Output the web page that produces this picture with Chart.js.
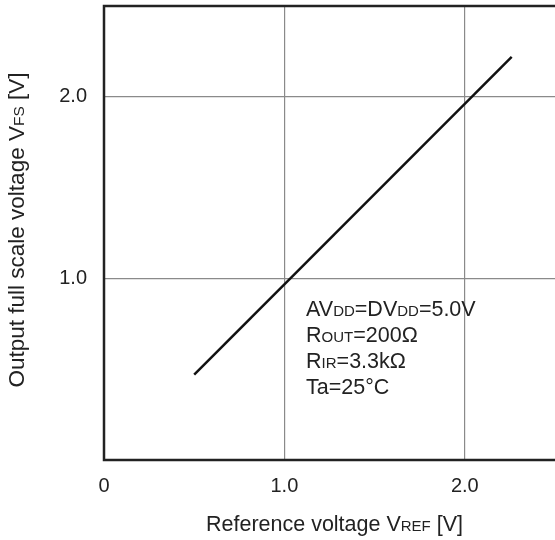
<!DOCTYPE html>
<html>
<head>
<meta charset="utf-8">
<script src="https://cdn.jsdelivr.net/npm/chart.js@4"></script>
<style>
  html, body { margin: 0; padding: 0; background: #fff; }
  #wrap { width: 555px; height: 540px; position: relative; }
</style>
</head>
<body>
<div id="wrap"><canvas id="vfsChart"></canvas></div>
<script>
// values
const refVoltage = [0.5, 2.26];          // VREF [V]
const fullScaleVoltage = [0.47, 2.22];   // VFS [V]
const xTickValues = [0, 1, 2];
const yTickValues = [0, 1, 2];
const xTickLabels = ['0', '1.0', '2.0'];
const yTickLabels = ['', '1.0', '2.0'];

// text pieces: [text, isSmallCaps]
const xTitle = [['Reference voltage V', false], ['REF', true], [' [V]', false]];
const yTitle = [['Output full scale voltage V', false], ['FS', true], [' [V]', false]];
const conditions = [
    [['AV', false], ['DD', true], ['=DV', false], ['DD', true], ['=5.0V', false]],
    [['R', false], ['OUT', true], ['=200\u03A9', false]],
    [['R', false], ['IR', true], ['=3.3k\u03A9', false]],
    [['Ta=25\u00B0C', false]]
];

const FONT = "'Liberation Sans', Arial, Helvetica, sans-serif";
const INK = '#222222';

function drawRich(ctx, parts, x, y, align, big, small) {
    let total = 0;
    parts.forEach(([t, sm]) => {
        ctx.font = (sm ? small : big) + 'px ' + FONT;
        total += ctx.measureText(t).width;
    });
    let cx = align === 'center' ? x - total / 2 : x;
    parts.forEach(([t, sm]) => {
        ctx.font = (sm ? small : big) + 'px ' + FONT;
        ctx.fillText(t, cx, y);
        cx += ctx.measureText(t).width;
    });
}

const decorPlugin = {
    id: 'decor',
    afterDraw(chart) {
        const { ctx, chartArea: a, scales } = chart;
        ctx.save();
        // frame: left, top, bottom (right side is cut off in the reference)
        ctx.strokeStyle = INK;
        ctx.lineWidth = 2.5;
        ctx.beginPath();
        ctx.moveTo(a.right + 2, a.top);
        ctx.lineTo(a.left, a.top);
        ctx.lineTo(a.left, a.bottom);
        ctx.lineTo(a.right + 2, a.bottom);
        ctx.stroke();

        ctx.fillStyle = INK;
        ctx.textBaseline = 'alphabetic';
        ctx.textAlign = 'left';
        // x axis title
        drawRich(ctx, xTitle, (a.left + a.right) / 2 + 5, 531, 'center', 21.5, 15);
        // y axis title
        ctx.save();
        ctx.translate(24, (a.top + a.bottom) / 2 - 3);
        ctx.rotate(-Math.PI / 2);
        drawRich(ctx, yTitle, 0, 0, 'center', 22.5, 15.5);
        ctx.restore();
        // measurement conditions
        const tx = scales.x.getPixelForValue(1.12);
        let ty = scales.y.getPixelForValue(0.83) + 7;
        conditions.forEach(line => {
            drawRich(ctx, line, tx, ty, 'left', 21.5, 15);
            ty += 26;
        });
        ctx.restore();
    }
};

const ctx = document.getElementById('vfsChart').getContext('2d');
new Chart(ctx, {
    type: 'scatter',
    data: {
        datasets: [{
            data: refVoltage.map((v, i) => ({ x: v, y: fullScaleVoltage[i] })),
            showLine: true,
            borderColor: '#111111',
            borderWidth: 2.5,
            pointRadius: 0,
            pointHoverRadius: 0
        }]
    },
    options: {
        responsive: true,
        maintainAspectRatio: false,
        animation: false,
        layout: { padding: { top: 6, right: 0, left: 0, bottom: 0 } },
        plugins: {
            legend: { display: false },
            tooltip: { enabled: false }
        },
        scales: {
            x: {
                type: 'linear',
                min: 0,
                max: 2.5,
                afterBuildTicks: s => { s.ticks = xTickValues.map(v => ({ value: v })); },
                afterFit: s => {
                    s.height = 80;
                    s.paddingLeft = 0;
                    s.paddingRight = 0;
                },
                border: { display: false },
                grid: {
                    drawTicks: false,
                    color: c => c.tick && c.tick.value === 0 ? 'rgba(0,0,0,0)' : '#8a8a8a',
                    lineWidth: 1.2
                },
                ticks: {
                    padding: 14,
                    maxRotation: 0,
                    color: INK,
                    font: { family: FONT, size: 20 },
                    callback: (v, i) => xTickLabels[i]
                }
            },
            y: {
                type: 'linear',
                min: 0,
                max: 2.5,
                afterBuildTicks: s => { s.ticks = yTickValues.map(v => ({ value: v })); },
                afterFit: s => {
                    s.width = 104;
                    s.paddingTop = 0;
                    s.paddingBottom = 0;
                },
                border: { display: false },
                grid: {
                    drawTicks: false,
                    color: c => c.tick && c.tick.value === 0 ? 'rgba(0,0,0,0)' : '#8a8a8a',
                    lineWidth: 1.2
                },
                ticks: {
                    padding: 17,
                    color: INK,
                    font: { family: FONT, size: 20 },
                    callback: (v, i) => yTickLabels[i]
                }
            }
        }
    },
    plugins: [decorPlugin]
});
</script>
</body>
</html>
